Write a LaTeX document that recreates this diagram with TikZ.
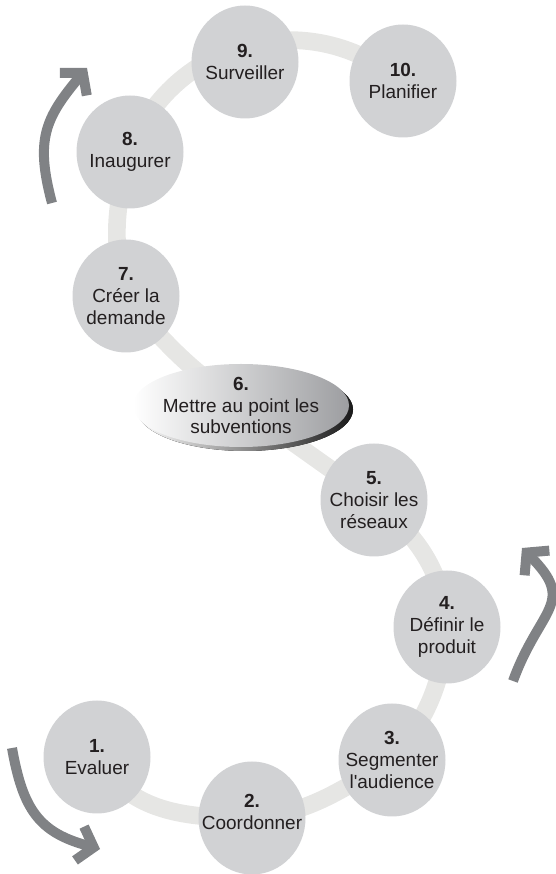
\documentclass[tikz,border=0pt]{standalone}
\usepackage{fontspec}
\setmainfont{Liberation Sans}
\usetikzlibrary{arrows.meta,shapes.geometric,backgrounds}
\definecolor{stepgray}{RGB}{209,210,212}
\definecolor{trackgray}{RGB}{230,230,228}
\definecolor{arrowgray}{RGB}{128,130,133}
\definecolor{textdark}{RGB}{35,31,32}
\definecolor{ovalgray}{RGB}{157,158,161}
\begin{document}
\begin{tikzpicture}[x=0.3mm,y=0.3mm,
   every node/.style={font=\fontsize{16.2}{18.6}\selectfont,text=textdark},
   every label/.style={align=center,inner sep=0pt},
   stepdisc/.style={ellipse,fill=stepgray,minimum width=32.1mm,minimum height=33.9mm,inner sep=0pt},
   oval/.style={ellipse,left color=white,right color=ovalgray,minimum width=64.8mm,minimum height=24.9mm,inner sep=0pt},
   track/.style={trackgray,line width=5.3mm},
   turn/.style={arrowgray,line width=3mm,-{Straight Barb[length=4.4mm,width=10.5mm]}}]
\useasboundingbox (0,0) rectangle (555,874);
\node[stepdisc,label={center:{\textbf{1.}\\Evaluer}}] (s1) at (97,117) {};
\node[stepdisc,label={[yshift=1.8mm]center:{\textbf{2.}\\Coordonner}}] (s2) at (252,56) {};
\node[stepdisc,label={center:{\textbf{3.}\\Segmenter\\l\textquotesingle audience}}] (s3) at (392,114) {};
\node[stepdisc,label={center:{\textbf{4.}\\Définir le\\produit}}] (s4) at (447,247) {};
\node[stepdisc,label={center:{\textbf{5.}\\Choisir les\\réseaux}}] (s5) at (374,374) {};
\node[oval,label={center:{\textbf{6.}\\Mettre au point les\\subventions}}] (s6) at (241,468.5) {};
\node[stepdisc,label={center:{\textbf{7.}\\Créer la\\demande}}] (s7) at (126,578) {};
\node[stepdisc,label={center:{\textbf{8.}\\Inaugurer}}] (s8) at (130,722) {};
\node[stepdisc,label={center:{\textbf{9.}\\Surveiller}}] (s9) at (245,812) {};
\node[stepdisc,label={center:{\textbf{10.}\\Planifier}}] (s10) at (403,793) {};
\begin{scope}[on background layer]
\draw[track] (s1.center) to[out=-60,in=180] (s2.center) to[out=5,in=-150] (s3.center)
   to[out=50,in=-95] (s4.center) to[out=95,in=-40] (s5.center) -- (s6.center)
   to[bend left=8] (s7.center) to[out=105,in=-105] (s8.center)
   arc[start angle=160,end angle=49,radius=51mm];
\fill[left color=white,right color=black!90] ([shift={(4,-4)}]s6.center) ellipse [x radius=32.4mm,y radius=12.45mm];
\end{scope}
\coordinate (upA) at (52,671);
\coordinate (upB) at (87,806);
\coordinate (rightA) at (513,193);
\coordinate (rightB) at (522,326);
\coordinate (downA) at (12,126);
\coordinate (downB) at (100,25);
\draw[turn] (upA) to[out=105,in=-130,looseness=1.2] (upB);
\draw[turn] (rightA) to[out=70,in=-45,looseness=1.5] (rightB);
\draw[turn] (downA) to[out=-80,in=165,looseness=1.2] (downB);
\end{tikzpicture}
\end{document}
